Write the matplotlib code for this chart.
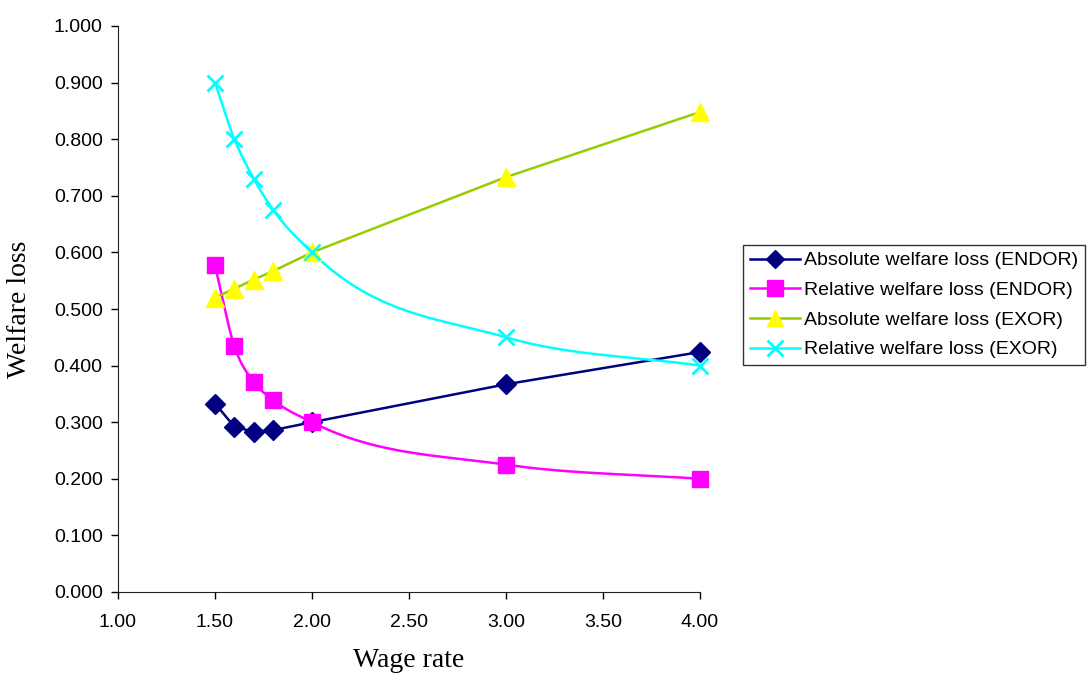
import numpy as np
import matplotlib.pyplot as plt

plt.rcParams['font.family'] = ['Liberation Sans', 'DejaVu Sans']

wage = [1.5, 1.6, 1.7, 1.8, 2.0, 3.0, 4.0]
abs_endor = [0.333, 0.292, 0.283, 0.286, 0.300, 0.367, 0.424]
rel_endor = [0.577, 0.434, 0.371, 0.339, 0.300, 0.225, 0.200]
abs_exor = [0.520, 0.536, 0.552, 0.567, 0.600, 0.733, 0.848]
rel_exor = [0.900, 0.800, 0.730, 0.675, 0.600, 0.450, 0.400]

labels = ["Absolute welfare loss (ENDOR)", "Relative welfare loss (ENDOR)",
          "Absolute welfare loss (EXOR)", "Relative welfare loss (EXOR)"]


def smooth(xs, ys, n=40):
    # hermite curve through the points, slopes from the neighbouring segments
    x = np.asarray(xs, float)
    y = np.asarray(ys, float)
    h = np.diff(x)
    d = np.diff(y) / h
    m = np.empty_like(y)
    m[0], m[-1] = d[0], d[-1]
    m[1:-1] = (d[:-1] * h[1:] + d[1:] * h[:-1]) / (h[:-1] + h[1:])
    px, py = [], []
    for i in range(len(x) - 1):
        t = np.linspace(0, 1, n)
        h00 = 2 * t ** 3 - 3 * t ** 2 + 1
        h10 = t ** 3 - 2 * t ** 2 + t
        h01 = -2 * t ** 3 + 3 * t ** 2
        h11 = t ** 3 - t ** 2
        seg = h00 * y[i] + h10 * h[i] * m[i] + h01 * y[i + 1] + h11 * h[i] * m[i + 1]
        px.append(x[i] + t * h[i])
        py.append(seg)
    return np.concatenate(px), np.concatenate(py)


fig = plt.figure(figsize=(10.92, 6.77), dpi=100)
ax = fig.add_axes([118 / 1092, 1 - 592 / 677, (700 - 118) / 1092, (592 - 26) / 677])

lw = 1.8
ax.plot(wage, abs_endor, color="#000080", linewidth=lw, zorder=2)
ax.plot(wage, abs_endor, linestyle="none", marker="D", markersize=10,
        color="#000080", zorder=3)

sx, sy = smooth(wage, rel_endor)
ax.plot(sx, sy, color="#FF00FF", linewidth=lw, zorder=2)
ax.plot(wage, rel_endor, linestyle="none", marker="s", markersize=12,
        color="#FF00FF", zorder=3)

ax.plot(wage, abs_exor, color="#99CC00", linewidth=lw, zorder=2)
ax.plot(wage, abs_exor, linestyle="none", marker="^", markersize=13,
        color="#FFFF00", zorder=3)

sx, sy = smooth(wage, rel_exor)
ax.plot(sx, sy, color="#00FFFF", linewidth=lw, zorder=2)
ax.plot(wage, rel_exor, linestyle="none", marker="x", markersize=12,
        markeredgewidth=2, color="#00FFFF", zorder=3)

ax.set_xlim(1.0, 4.0)
ax.set_ylim(0.0, 1.0)
ax.set_xticks(np.arange(1.0, 4.01, 0.5))
ax.set_yticks(np.arange(0.0, 1.001, 0.1))
ax.set_xticklabels([f"{v:.2f}" for v in np.arange(1.0, 4.01, 0.5)])
ax.set_yticklabels([f"{v:.3f}" for v in np.arange(0.0, 1.001, 0.1)])
ax.tick_params(labelsize=14, direction="out", length=5, width=1, pad=6)
ax.tick_params(axis="x", pad=11)
for s in ["top", "right"]:
    ax.spines[s].set_visible(False)
for s in ["left", "bottom"]:
    ax.spines[s].set_color("#222222")
for ln in ax.lines:
    ln.set_clip_on(False)

ax.set_xlabel("Wage rate", family="Liberation Serif", fontsize=20, labelpad=12)
ax.set_ylabel("Welfare loss", family="Liberation Serif", fontsize=20, labelpad=16)

handles = [
    plt.Line2D([], [], color="#000080", linewidth=lw, marker="D", markersize=9),
    plt.Line2D([], [], color="#FF00FF", linewidth=lw, marker="s", markersize=11),
    plt.Line2D([], [], color="#99CC00", linewidth=lw, marker="^", markersize=12,
               markerfacecolor="#FFFF00", markeredgecolor="#FFFF00"),
    plt.Line2D([], [], color="#00FFFF", linewidth=lw, marker="x", markersize=11,
               markeredgewidth=2),
]
leg = fig.legend(handles, labels, loc="upper left",
                 bbox_to_anchor=(743 / 1092, 1 - 245 / 677),
                 fontsize=14, frameon=True, fancybox=False,
                 borderaxespad=0, handlelength=2.6, handletextpad=0.2,
                 labelspacing=0.62, borderpad=0.35)
leg.get_frame().set_edgecolor("black")
leg.get_frame().set_linewidth(1)

fig.savefig("out.png", dpi=100)
